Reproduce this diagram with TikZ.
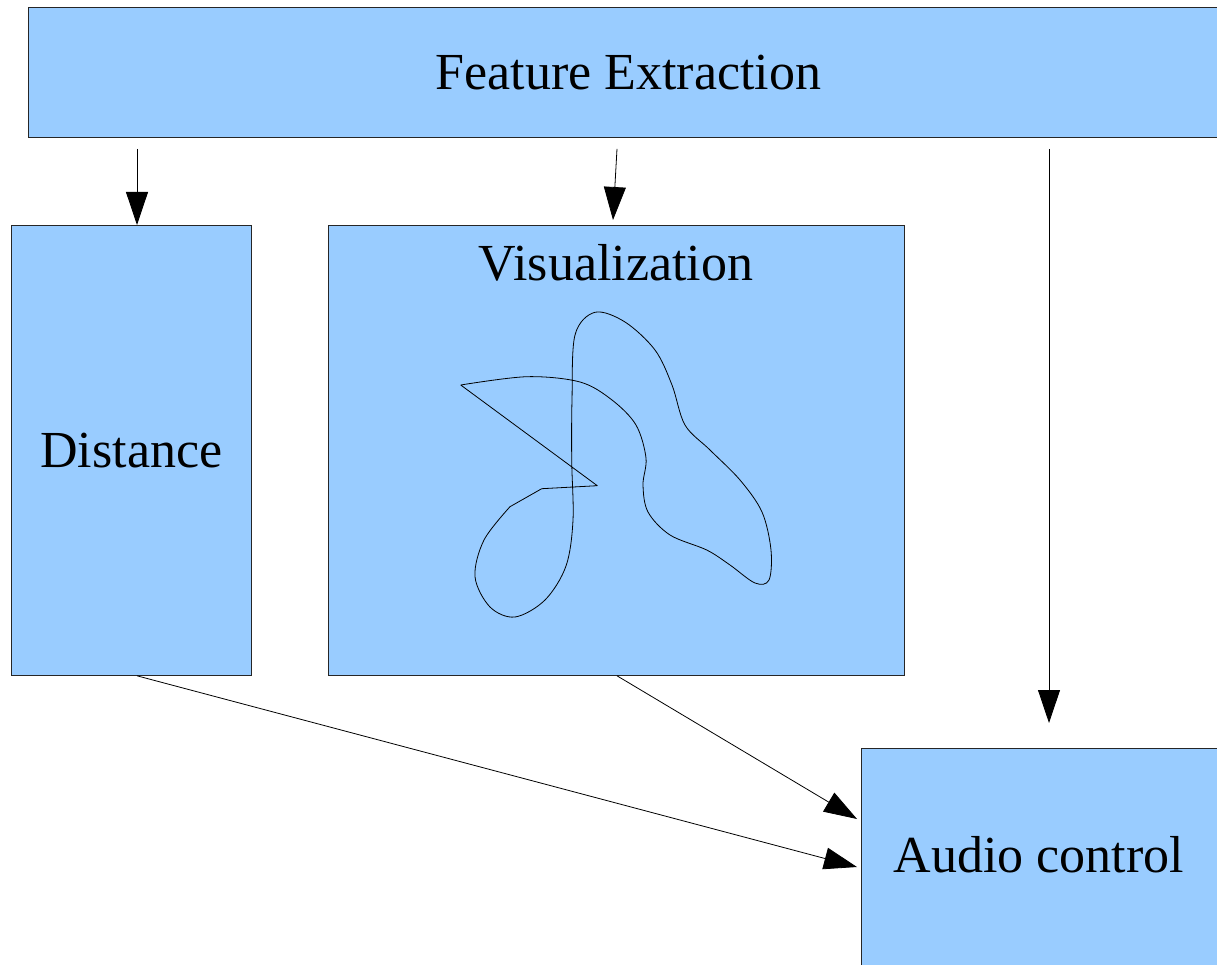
\documentclass[tikz,border=0pt]{standalone}
\usepackage{fontspec}
\setmainfont{Liberation Serif}
\usetikzlibrary{arrows.meta,calc}
\definecolor{boxfill}{HTML}{99CCFF}
\tikzset{
  box/.style={draw=black!85, line width=0.8pt, fill=boxfill, inner sep=0pt, font=\fontsize{52}{58}\selectfont},
  arr/.style={draw=black, line width=0.8pt, -{Triangle[length=33pt,width=22pt]}},
  lbl/.style={inner sep=0pt, font=\fontsize{52}{58}\selectfont}
}
\begin{document}
\begin{tikzpicture}[x=1pt,y=-1pt]
\useasboundingbox (0,0) rectangle (1217,965);
\clip (0,0) rectangle (1217,965);
\node[box, anchor=north west, minimum width=1200pt, minimum height=130pt] (fe) at (28,7) {Feature Extraction};
\node[box, anchor=north west, minimum width=240pt, minimum height=450pt] (dist) at (11,225) {Distance};
\node[box, anchor=north west, minimum width=576pt, minimum height=450pt] (vis) at (328,225) {};
\node[lbl] (vist) at (616,263) {Visualization};
\node[box, anchor=north west, minimum width=356pt, minimum height=230pt] (audio) at (861,748) {};
\node[lbl] (audt) at (1039,855) {Audio control};
% connectors
\coordinate (s1) at ($(fe.south west)+(109,11)$);
\coordinate (s2) at ($(fe.south west)+(589,11)$);
\coordinate (s3) at ($(fe.south west)+(1021,11)$);
\coordinate (t1) at ($(dist.north west)+(126,0)$);
\coordinate (t2) at ($(vis.north west)+(285,-5)$);
\coordinate (t3) at ($(audio.north west)+(188,-25)$);
\coordinate (d1) at ($(dist.south west)+(126,0)$);
\coordinate (v1) at ($(vis.south west)+(289,0)$);
\coordinate (a1) at ($(audio.north west)+(-4,119)$);
\coordinate (a2) at ($(audio.north west)+(-4,71)$);
\draw[arr] (s1) -- (t1);
\draw[arr] (s2) -- (t2);
\draw[arr] (s3) -- (t3);
\draw[arr] (d1) -- (a1);
\draw[arr] (v1) -- (a2);
% curve
\draw[line width=0.8pt, line join=round] (460.7,385) -- (597.3,485.7) -- (541.7,488.7) -- (510,506.7)
  -- plot[smooth, tension=0.55] coordinates {(510,506.7) (484,540) (475,576.7) (490,607) (515,617) (545,600) (566,566) (573,520) (571.7,460) (572,400) (575,335) (595,312.3) (625,322) (655,350) (672,385) (685,425) (710,450) (740,480) (762,512) (771,550) (769,580) (755,583) (730,565) (706.7,550) (670,535) (648,512) (643,485) (646,458) (636,425) (612,400) (580,382) (527,376.7) (460.7,385)};
\end{tikzpicture}
\end{document}
